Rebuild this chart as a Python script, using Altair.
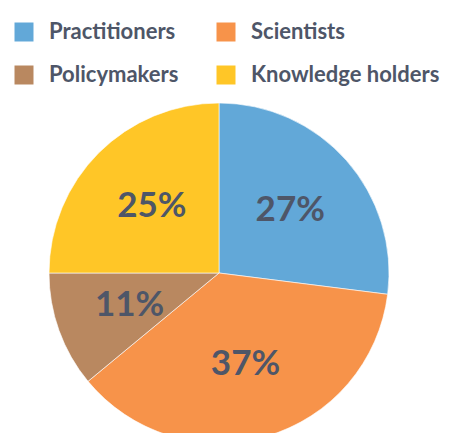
import altair as alt
import pandas as pd

categories = ["Practitioners", "Scientists", "Policymakers", "Knowledge holders"]
shares = [27, 37, 11, 25]
labels = ["27%", "37%", "11%", "25%"]
colors = ["#62A8D8", "#F7934A", "#B98860", "#FFC627"]
legend_order = ["Practitioners", "Policymakers", "Scientists", "Knowledge holders"]

df = pd.DataFrame({
    "group": categories,
    "share": shares,
    "label": labels,
    "order": list(range(len(categories))),
})

TEXT = "#4E5668"
FONT = "Lato"

base = alt.Chart(df).encode(
    theta=alt.Theta("share:Q", stack=True),
    order=alt.Order("order:Q"),
)

pie = base.mark_arc(outerRadius=170, stroke="#ffffff", strokeWidth=0.6).encode(
    color=alt.Color(
        "group:N",
        scale=alt.Scale(domain=categories, range=colors),
        sort=categories,
        legend=alt.Legend(
            title=None,
            orient="none",
            legendX=-36,
            legendY=-92,
            columns=2,
            values=legend_order,
            symbolType="square",
            symbolSize=361,
            symbolStrokeWidth=0,
            labelFont=FONT,
            labelFontSize=22,
            labelFontWeight="bold",
            labelColor=TEXT,
            labelLimit=400,
            labelOffset=14,
            columnPadding=36,
            rowPadding=21,
        ),
    )
)

text = base.mark_text(
    radius=95, font=FONT, fontSize=35, fontWeight="bold", color=TEXT
).encode(text="label:N")

chart = (
    (pie + text)
    .properties(width=340, height=320)
    .configure(padding={"left": 49, "top": 113, "right": 64, "bottom": 0})
    .properties(autosize=alt.AutoSizeParams(type="none"))
    .configure_view(stroke=None)
)

chart.save("out.html", embed_options={"renderer": "svg", "actions": False})
